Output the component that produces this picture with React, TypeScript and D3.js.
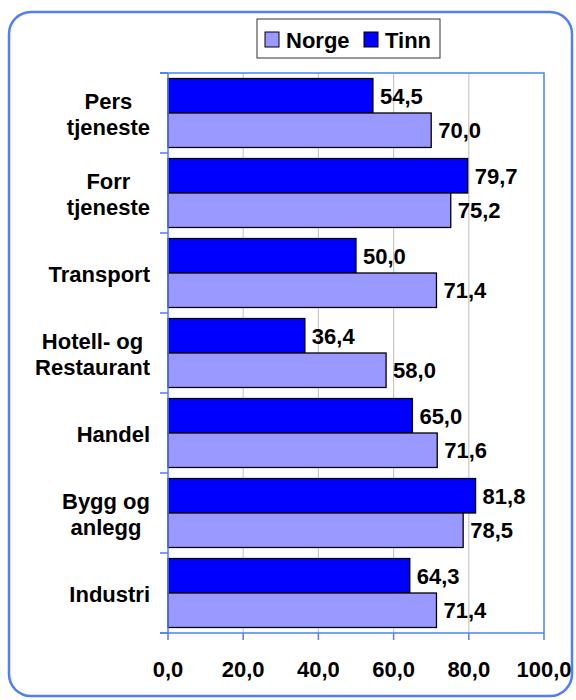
import { useEffect, useRef } from 'react';
import * as d3 from 'd3';

// categories from top to bottom, lines split for wrapping
const categories = ['Pers tjeneste', 'Forr tjeneste', 'Transport', 'Hotell- og Restaurant', 'Handel', 'Bygg og anlegg', 'Industri'];
const categoryLines = [['Pers', 'tjeneste'], ['Forr', 'tjeneste'], ['Transport'], ['Hotell- og', 'Restaurant'], ['Handel'], ['Bygg og', 'anlegg'], ['Industri']];
const tinn = [54.5, 79.7, 50.0, 36.4, 65.0, 81.8, 64.3];
const norge = [70.0, 75.2, 71.4, 58.0, 71.6, 78.5, 71.4];
const xTicks = [0, 20, 40, 60, 80, 100];
const seriesNames = ['Tinn', 'Norge'];
const legendNames = ['Norge', 'Tinn'];

export default function App() {
  const svgRef = useRef<SVGSVGElement>(null);
  const width = 576;
  const height = 700;

  useEffect(() => {
    if (!svgRef.current) return;
    const svg = d3.select(svgRef.current);
    svg.selectAll('*').remove();

    const font = '"Liberation Sans", Arial, Helvetica, sans-serif';
    const axisColor = '#4f7ef8';
    const colors: Record<string, string> = { Tinn: '#0000ff', Norge: '#9999ff' };
    const plot = { left: 168, right: 544, top: 73, bottom: 633 };

    // outer frame
    svg.append('rect')
      .attr('x', 9).attr('y', 12)
      .attr('width', 563).attr('height', 684)
      .attr('rx', 22)
      .attr('fill', '#fff')
      .attr('stroke', axisColor)
      .attr('stroke-width', 2.5);

    const x = d3.scaleLinear().domain([0, 100]).range([plot.left, plot.right]);
    const y = d3.scaleBand().domain(categories).range([plot.top, plot.bottom]);
    const ySub = d3.scaleBand().domain(seriesNames).range([0, y.bandwidth()]).paddingOuter(0.16);

    // grid lines
    svg.append('g')
      .selectAll('line')
      .data(xTicks.slice(1, -1))
      .enter().append('line')
      .attr('x1', d => x(d)).attr('x2', d => x(d))
      .attr('y1', plot.top).attr('y2', plot.bottom)
      .attr('stroke', '#c8c8c8')
      .attr('stroke-width', 1.2);

    // plot border top + right
    svg.append('path')
      .attr('d', `M${plot.left - 8},${plot.top}H${plot.right}V${plot.bottom}`)
      .attr('fill', 'none')
      .attr('stroke', axisColor)
      .attr('stroke-width', 1.5);

    // bars
    const rows = categories.map((c, i) => ({ c, Tinn: tinn[i], Norge: norge[i] }));
    const groups = svg.append('g')
      .selectAll('g')
      .data(rows)
      .enter().append('g')
      .attr('transform', d => `translate(0,${y(d.c)})`);

    seriesNames.forEach(s => {
      groups.append('rect')
        .attr('x', x(0))
        .attr('y', ySub(s) || 0)
        .attr('width', d => x((d as any)[s]) - x(0))
        .attr('height', ySub.bandwidth())
        .attr('fill', colors[s])
        .attr('stroke', '#000')
        .attr('stroke-width', 1.3);

      groups.append('text')
        .attr('x', d => x((d as any)[s]) + 7)
        .attr('y', (ySub(s) || 0) + ySub.bandwidth() / 2)
        .attr('dy', '0.36em')
        .style('font-family', font)
        .style('font-weight', 'bold')
        .style('font-size', '22px')
        .text(d => d3.format('.1f')((d as any)[s]).replace('.', ','));
    });

    // left axis
    const leftAxis = svg.append('g').attr('stroke', axisColor).attr('stroke-width', 1.5);
    leftAxis.append('line')
      .attr('x1', plot.left).attr('x2', plot.left)
      .attr('y1', plot.top).attr('y2', plot.bottom);
    leftAxis.selectAll('.tick')
      .data(d3.range(categories.length + 1))
      .enter().append('line')
      .attr('x1', plot.left - 8).attr('x2', plot.left)
      .attr('y1', i => plot.top + i * y.step())
      .attr('y2', i => plot.top + i * y.step());

    // bottom axis
    const bottomAxis = svg.append('g').attr('stroke', axisColor).attr('stroke-width', 1.5);
    bottomAxis.append('line')
      .attr('x1', plot.left - 8).attr('x2', plot.right)
      .attr('y1', plot.bottom).attr('y2', plot.bottom);
    bottomAxis.selectAll('.tick')
      .data(xTicks)
      .enter().append('line')
      .attr('x1', d => x(d)).attr('x2', d => x(d))
      .attr('y1', plot.bottom).attr('y2', plot.bottom + 7);

    svg.append('g')
      .selectAll('text')
      .data(xTicks)
      .enter().append('text')
      .attr('x', d => x(d))
      .attr('y', 677)
      .attr('text-anchor', 'middle')
      .style('font-family', font)
      .style('font-weight', 'bold')
      .style('font-size', '22px')
      .text(d => d3.format('.1f')(d).replace('.', ','));

    // category labels, lines centered in a right-aligned block
    categoryLines.forEach((lines, i) => {
      const g = svg.append('g');
      const texts = lines.map(l => g.append('text')
        .style('font-family', font)
        .style('font-weight', 'bold')
        .style('font-size', '22px')
        .attr('text-anchor', 'middle')
        .text(l));
      const maxW = d3.max(texts, t => (t.node() as SVGTextElement).getComputedTextLength()) || 0;
      const cx = 150 - maxW / 2;
      const cy = (y(categories[i]) || 0) + y.bandwidth() / 2;
      texts.forEach((t, j) => {
        t.attr('x', cx)
          .attr('y', cy + 9 + (j - (lines.length - 1) / 2) * 26);
      });
    });

    // legend
    const legend = svg.append('g');
    legend.append('rect')
      .attr('x', 257).attr('y', 19)
      .attr('width', 183).attr('height', 39)
      .attr('fill', '#fff')
      .attr('stroke', '#333')
      .attr('stroke-width', 1);
    const legendX = [265, 364];
    legendNames.forEach((n, i) => {
      legend.append('rect')
        .attr('x', legendX[i]).attr('y', 32)
        .attr('width', 14).attr('height', 15)
        .attr('fill', colors[n])
        .attr('stroke', '#000')
        .attr('stroke-width', 1);
      legend.append('text')
        .attr('x', legendX[i] + 21).attr('y', 48)
        .style('font-family', font)
        .style('font-weight', 'bold')
        .style('font-size', '22px')
        .text(n);
    });
  }, []);

  return (
    <svg
      ref={svgRef}
      width={width}
      height={height}
      style={{ position: 'absolute', left: 0, top: 0, background: '#fff' }}
    />
  );
}
